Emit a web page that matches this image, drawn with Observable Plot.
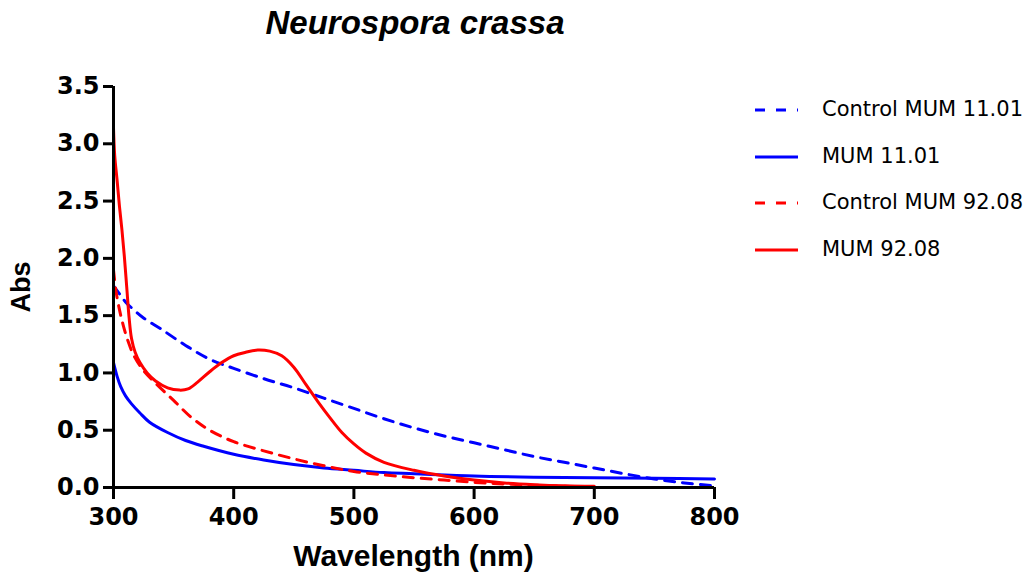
<!DOCTYPE html>
<html>
<head>
<meta charset="utf-8">
<script src="https://cdn.jsdelivr.net/npm/d3@7"></script>
<script src="https://cdn.jsdelivr.net/npm/@observablehq/plot@0.6"></script>
<style>
  html, body { margin: 0; padding: 0; background: #fff; }
  #wrap { position: relative; width: 1035px; height: 580px; overflow: hidden; }
  #wrap > svg { position: absolute; left: 0; top: 0; }
  .title { position: absolute; left: 0; width: 830px; top: 4px; text-align: center;
    font-family: "Liberation Sans", Arial, sans-serif; font-weight: bold; font-style: italic; font-size: 33px; color: #000; }
  .xlab { position: absolute; left: 113px; width: 601px; top: 539px; text-align: center;
    font-family: "Liberation Sans", Arial, sans-serif; font-weight: bold; font-size: 30px; color: #000; }
  .ylab { position: absolute; left: 21px; top: 287px; transform: translate(-50%, -50%) rotate(-90deg);
    font-family: "Liberation Sans", Arial, sans-serif; font-weight: bold; font-size: 27px; color: #000; white-space: nowrap; }
  .legend { position: absolute; left: 752px; top: 86px; font-family: "DejaVu Sans", sans-serif; font-size: 21px; color: #000; }
  .legend .row { height: 46.5px; display: flex; align-items: center; }
  .legend .row svg { display: block; margin-right: 22px; }
</style>
</head>
<body>
<div id="wrap"></div>
<script>
// ---- Data ----
const seriesNames = ["Control MUM 11.01", "MUM 11.01", "Control MUM 92.08", "MUM 92.08"];
const seriesColors = ["#0000ff", "#0000ff", "#ff0000", "#ff0000"];
const seriesDashed = [true, false, true, false];

const ctrl1101Wl  = [300, 305, 310, 318, 325, 340, 360, 380, 400, 425, 450, 475, 500, 525, 550, 575, 600, 625, 650, 675, 700, 725, 750, 775, 800];
const ctrl1101Abs = [1.76, 1.69, 1.62, 1.54, 1.48, 1.38, 1.24, 1.12, 1.04, 0.95, 0.87, 0.78, 0.69, 0.60, 0.52, 0.45, 0.39, 0.33, 0.27, 0.22, 0.17, 0.12, 0.075, 0.04, 0.015];

const mum1101Wl  = [300, 303, 306, 310, 315, 322, 330, 345, 360, 375, 400, 425, 450, 475, 500, 525, 550, 600, 650, 700, 750, 800];
const mum1101Abs = [1.09, 0.97, 0.88, 0.80, 0.73, 0.65, 0.57, 0.48, 0.41, 0.36, 0.29, 0.24, 0.20, 0.17, 0.15, 0.13, 0.12, 0.10, 0.09, 0.085, 0.08, 0.075];

const ctrl9208Wl  = [300, 302, 305, 308, 312, 317, 325, 335, 350, 365, 380, 400, 425, 450, 475, 500, 525, 550, 575, 600, 625, 650, 675, 700];
const ctrl9208Abs = [1.90, 1.72, 1.55, 1.42, 1.28, 1.15, 1.02, 0.91, 0.76, 0.61, 0.50, 0.40, 0.32, 0.25, 0.19, 0.14, 0.11, 0.085, 0.065, 0.045, 0.03, 0.02, 0.01, 0.005];

const mum9208Wl  = [300, 301, 303, 305, 307, 309, 311, 313, 315, 318, 322, 328, 335, 345, 355, 362, 370, 380, 390, 400, 410, 420, 430, 440, 450, 460, 470, 480, 490, 500, 510, 525, 550, 575, 600, 625, 650, 675, 700];
const mum9208Abs = [3.14, 2.90, 2.68, 2.45, 2.25, 2.02, 1.75, 1.48, 1.30, 1.18, 1.09, 1.00, 0.93, 0.87, 0.85, 0.86, 0.92, 1.01, 1.09, 1.15, 1.18, 1.20, 1.19, 1.15, 1.05, 0.90, 0.75, 0.61, 0.48, 0.38, 0.30, 0.22, 0.15, 0.10, 0.065, 0.04, 0.025, 0.015, 0.01];

const xTicks = [300, 400, 500, 600, 700, 800];
const yTicks = [0, 0.5, 1.0, 1.5, 2.0, 2.5, 3.0, 3.5];

const titleText = "Neurospora crassa";
const xLabel = "Wavelength (nm)";
const yLabel = "Abs";

// ---- Build ----
const seriesWl = [ctrl1101Wl, mum1101Wl, ctrl9208Wl, mum9208Wl];
const seriesAbs = [ctrl1101Abs, mum1101Abs, ctrl9208Abs, mum9208Abs];
const toRows = (i) => seriesWl[i].map((w, j) => ({wl: w, abs: seriesAbs[i][j]}));

const lineMarks = seriesNames.map((name, i) => Plot.line(toRows(i), {
  x: "wl", y: "abs", stroke: seriesColors[i], strokeWidth: 3,
  strokeDasharray: seriesDashed[i] ? "10,8" : null, curve: "catmull-rom"
}));

const tickFont = {fontFamily: "DejaVu Sans", fontWeight: "bold", fontSize: 24};

const chart = Plot.plot({
  width: 1035, height: 580,
  marginLeft: 113, marginRight: 321, marginTop: 86, marginBottom: 93,
  x: {domain: [300, 800]},
  y: {domain: [0, 3.5]},
  style: {fontFamily: "DejaVu Sans", fontWeight: "bold", fontSize: "24px", color: "#000", background: "#fff"},
  marks: [
    ...lineMarks,
    Plot.axisX({ticks: xTicks, tickSize: 12, tickPadding: 8, strokeWidth: 3, label: null, tickFormat: d => String(d), ...tickFont}),
    Plot.axisY({ticks: yTicks, tickSize: 10, tickPadding: 4, strokeWidth: 3, label: null, tickFormat: d => d.toFixed(1), ...tickFont}),
    Plot.ruleY([0], {stroke: "#000", strokeWidth: 3}),
    Plot.ruleX([300], {stroke: "#000", strokeWidth: 3})
  ]
});

const wrap = document.getElementById("wrap");
wrap.appendChild(chart);

const t = document.createElement("div"); t.className = "title"; t.textContent = titleText; wrap.appendChild(t);
const xl = document.createElement("div"); xl.className = "xlab"; xl.textContent = xLabel; wrap.appendChild(xl);
const yl = document.createElement("div"); yl.className = "ylab"; yl.textContent = yLabel; wrap.appendChild(yl);

const lg = document.createElement("div"); lg.className = "legend";
seriesNames.forEach((name, i) => {
  const row = document.createElement("div"); row.className = "row";
  const ns = "http://www.w3.org/2000/svg";
  const s = document.createElementNS(ns, "svg");
  s.setAttribute("width", 48); s.setAttribute("height", 10);
  const l = document.createElementNS(ns, "line");
  l.setAttribute("x1", 3); l.setAttribute("x2", 46); l.setAttribute("y1", 6); l.setAttribute("y2", 6);
  l.setAttribute("stroke", seriesColors[i]); l.setAttribute("stroke-width", 3);
  if (seriesDashed[i]) l.setAttribute("stroke-dasharray", "10,11");
  s.appendChild(l);
  row.appendChild(s);
  const span = document.createElement("span"); span.textContent = name; row.appendChild(span);
  lg.appendChild(row);
});
wrap.appendChild(lg);
</script>
</body>
</html>
